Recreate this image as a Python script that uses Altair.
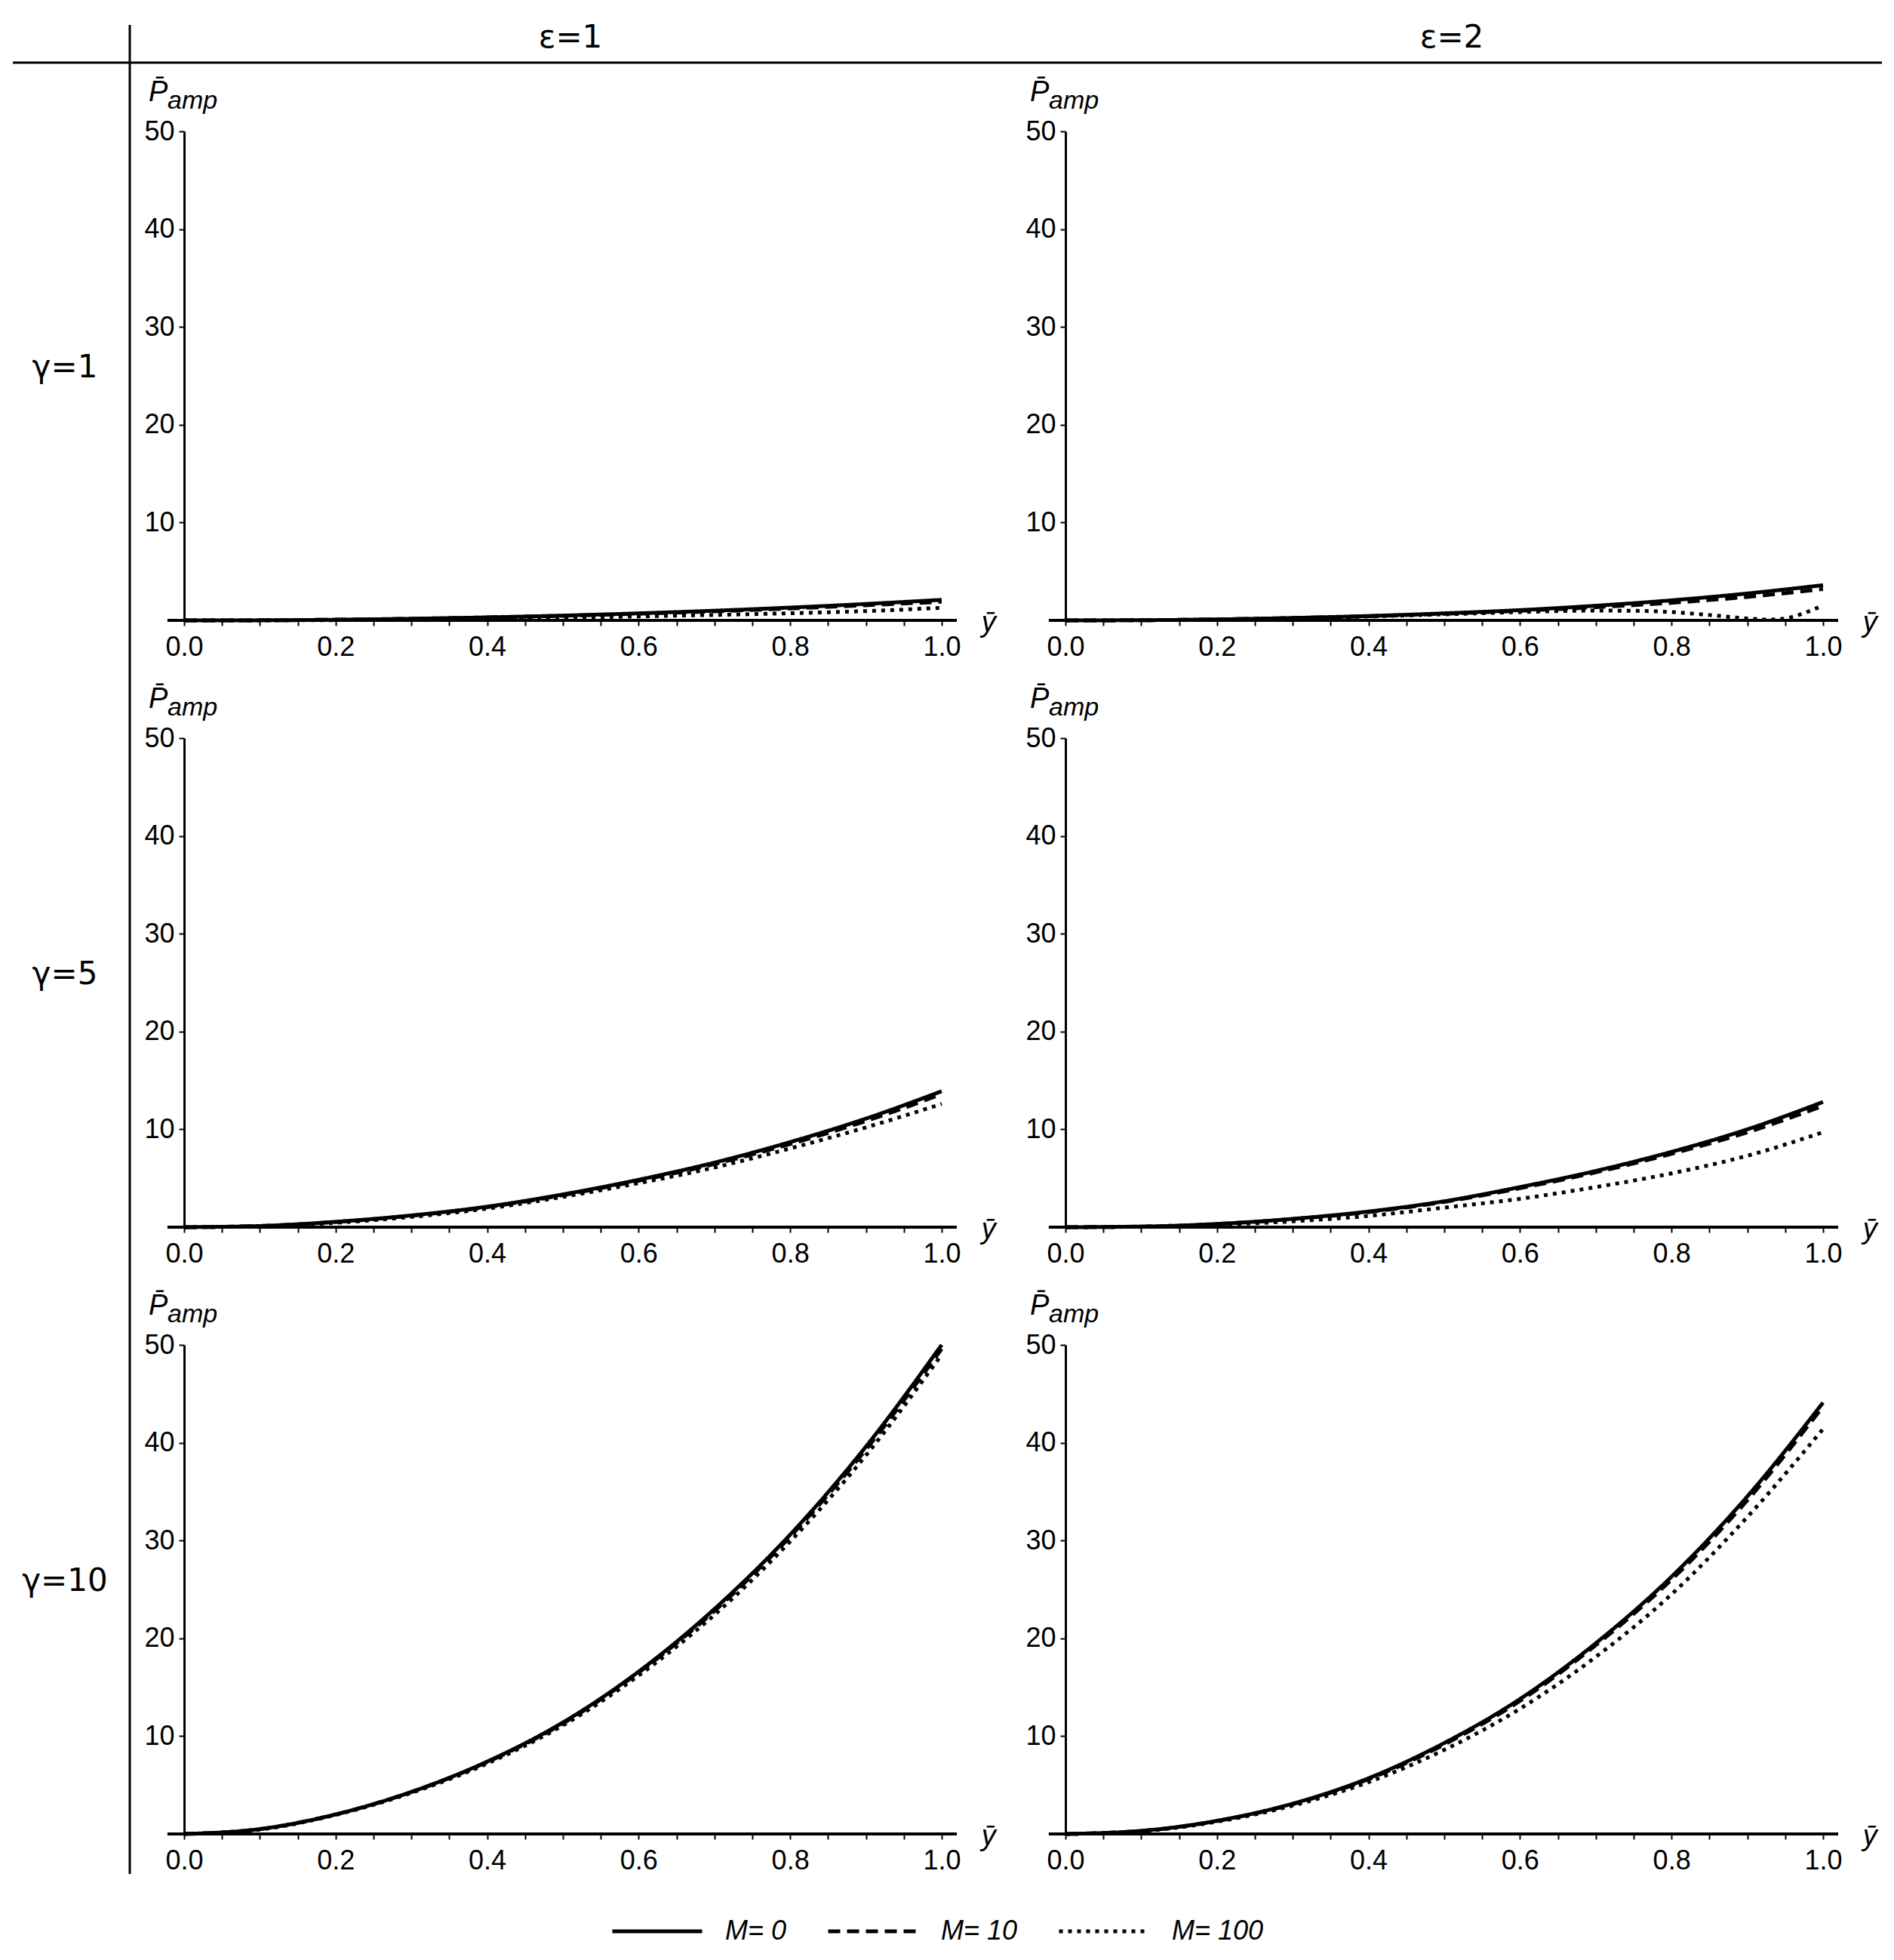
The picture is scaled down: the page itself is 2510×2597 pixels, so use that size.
import altair as alt
import pandas as pd

# ---------------- data ----------------
col_labels = ["\u03b5=1", "\u03b5=2"]
row_labels = ["\u03b3=1", "\u03b3=5", "\u03b3=10"]
m_values = ["0", "10", "100"]

x_grid = [0.0, 0.1, 0.2, 0.3, 0.4, 0.5, 0.6, 0.7, 0.8, 0.9, 1.0]

# gamma = 1, epsilon = 1
g1_e1_m0 = [0, 0.01, 0.07, 0.17, 0.31, 0.49, 0.72, 0.99, 1.31, 1.68, 2.1]
g1_e1_m10 = [0, 0.01, 0.07, 0.16, 0.30, 0.47, 0.68, 0.93, 1.22, 1.55, 1.9]
g1_e1_m100 = [0, 0.005, 0.03, 0.08, 0.16, 0.26, 0.41, 0.56, 0.73, 0.95, 1.29]
# gamma = 1, epsilon = 2
g1_e2_m0 = [0, 0.02, 0.1, 0.25, 0.45, 0.72, 1.05, 1.5, 2.05, 2.75, 3.6]
g1_e2_m10 = [0, 0.02, 0.1, 0.24, 0.43, 0.68, 0.98, 1.35, 1.8, 2.4, 3.2]
x_g1_e2_m100 = [0, 0.1, 0.2, 0.3, 0.4, 0.5, 0.6, 0.7, 0.75, 0.8, 0.85, 0.9, 0.93, 0.95, 0.97, 0.99, 1.0]
g1_e2_m100 = [0, 0.02, 0.09, 0.22, 0.4, 0.62, 0.85, 1.0, 0.98, 0.85, 0.55, 0.2, 0.08, 0.2, 0.6, 1.2, 1.5]
# gamma = 5, epsilon = 1
g5_e1_m0 = [0, 0.12, 0.55, 1.2, 2.1, 3.35, 4.85, 6.6, 8.7, 11.1, 13.9]
g5_e1_m10 = [0, 0.12, 0.53, 1.17, 2.05, 3.28, 4.75, 6.45, 8.5, 10.85, 13.6]
g5_e1_m100 = [0, 0.1, 0.45, 1.05, 1.9, 3.1, 4.5, 6.1, 8.05, 10.2, 12.6]
# gamma = 5, epsilon = 2
g5_e2_m0 = [0, 0.06, 0.33, 0.85, 1.6, 2.65, 4.1, 5.75, 7.7, 10.0, 12.8]
g5_e2_m10 = [0, 0.06, 0.32, 0.83, 1.55, 2.58, 3.98, 5.6, 7.5, 9.7, 12.4]
g5_e2_m100 = [0, 0.05, 0.25, 0.6, 1.15, 2.0, 2.9, 4.1, 5.5, 7.3, 9.7]
# gamma = 10, epsilon = 1
g10_e1_m0 = [0, 0.5, 2.0, 4.3, 7.4, 11.4, 16.6, 23.0, 30.6, 39.6, 50.0]
g10_e1_m10 = [0, 0.5, 2.0, 4.3, 7.35, 11.3, 16.5, 22.8, 30.4, 39.3, 49.6]
g10_e1_m100 = [0, 0.45, 1.95, 4.2, 7.2, 11.1, 16.2, 22.4, 29.9, 38.7, 49.0]
# gamma = 10, epsilon = 2
g10_e2_m0 = [0, 0.32, 1.35, 3.1, 5.7, 9.3, 13.8, 19.5, 26.3, 34.5, 44.1]
g10_e2_m10 = [0, 0.31, 1.33, 3.05, 5.6, 9.15, 13.6, 19.3, 26.0, 34.1, 43.7]
g10_e2_m100 = [0, 0.28, 1.25, 2.9, 5.3, 8.6, 12.8, 18.1, 24.5, 32.4, 41.4]

x_tick_values = [0.0, 0.05, 0.1, 0.15, 0.2, 0.25, 0.3, 0.35, 0.4, 0.45, 0.5,
                 0.55, 0.6, 0.65, 0.7, 0.75, 0.8, 0.85, 0.9, 0.95, 1.0]
y_tick_values = [10, 20, 30, 40, 50]
y_title_main = "P\u0304"
y_title_sub = "amp"
x_title = "\u0233"

panel_series = [
    [  # gamma = 1
        [("0", x_grid, g1_e1_m0), ("10", x_grid, g1_e1_m10), ("100", x_grid, g1_e1_m100)],
        [("0", x_grid, g1_e2_m0), ("10", x_grid, g1_e2_m10), ("100", x_g1_e2_m100, g1_e2_m100)],
    ],
    [  # gamma = 5
        [("0", x_grid, g5_e1_m0), ("10", x_grid, g5_e1_m10), ("100", x_grid, g5_e1_m100)],
        [("0", x_grid, g5_e2_m0), ("10", x_grid, g5_e2_m10), ("100", x_grid, g5_e2_m100)],
    ],
    [  # gamma = 10
        [("0", x_grid, g10_e1_m0), ("10", x_grid, g10_e1_m10), ("100", x_grid, g10_e1_m100)],
        [("0", x_grid, g10_e2_m0), ("10", x_grid, g10_e2_m10), ("100", x_grid, g10_e2_m100)],
    ],
]

# ---------------- layout ----------------
PW, PH = 1024, 648          # plot area of a panel
LW = 90                     # width of the row-label column
HH = 10                     # height of the header row view
FONT = "Liberation Sans"
one = pd.DataFrame({"k": [0]})

xscale = alt.Scale(domain=[0, 1.02], nice=False, zero=False)
yscale = alt.Scale(domain=[0, 50], nice=False)

xaxis = alt.Axis(values=x_tick_values,
                 labelExpr="(round(datum.value*100) % 20 == 0) ? format(datum.value, '.1f') : ''",
                 domain=False, grid=False, ticks=True, tickSize=7, tickWidth=2,
                 tickColor="black", labelFontSize=36, labelFont=FONT, labelColor="black",
                 labelPadding=11, labelFlush=False, labelOverlap=False, title=None)
yaxis = alt.Axis(values=y_tick_values, domain=True, domainColor="black", domainWidth=3,
                 grid=False, tickSize=7, tickWidth=2, tickColor="black",
                 labelFontSize=36, labelFont=FONT, labelColor="black", labelPadding=6,
                 title=None)


def make_panel(series):
    frames = [pd.DataFrame({"x": xs, "v": ys, "M": m}) for m, xs, ys in series]
    df = pd.concat(frames, ignore_index=True)
    lines = alt.Chart(df).mark_line(color="black", strokeWidth=5, interpolate="monotone").encode(
        x=alt.X("x:Q", scale=xscale, axis=xaxis),
        y=alt.Y("v:Q", scale=yscale, axis=yaxis),
        strokeDash=alt.StrokeDash(
            "M:N",
            scale=alt.Scale(domain=m_values, range=[[1, 0], [16, 9], [5, 7]]),
            legend=alt.Legend(title=None, labelExpr="'M= ' + datum.label"),
        ),
    )
    baseline = alt.Chart(one).mark_rule(color="black", strokeWidth=4).encode(
        x=alt.datum(-0.022), x2=alt.datum(1.02), y=alt.datum(0))
    ptxt = alt.Chart(pd.DataFrame({"t": [y_title_main]})).mark_text(
        font=FONT, fontSize=38, fontStyle="italic", align="left", baseline="alphabetic",
        dx=-47, dy=-40, color="black").encode(x=alt.datum(0), y=alt.datum(50), text="t:N")
    stxt = alt.Chart(pd.DataFrame({"t": [y_title_sub]})).mark_text(
        font=FONT, fontSize=34, fontStyle="italic", align="left", baseline="alphabetic",
        dx=-22, dy=-30, color="black").encode(x=alt.datum(0), y=alt.datum(50), text="t:N")
    xtxt = alt.Chart(pd.DataFrame({"t": [x_title]})).mark_text(
        font=FONT, fontSize=38, fontStyle="italic", align="center", baseline="middle",
        dy=4, color="black").encode(x=alt.datum(1.062), y=alt.datum(0), text="t:N")
    return alt.layer(lines, baseline, ptxt, stxt, xtxt).properties(width=PW, height=PH)


def row_label(txt):
    return alt.Chart(pd.DataFrame({"t": [txt]})).mark_text(
        font="DejaVu Sans", fontSize=42, align="center", baseline="middle", color="black"
    ).encode(x=alt.value(76), y=alt.value(313), text="t:N").properties(width=LW, height=PH)


def col_header(txt):
    return alt.Chart(pd.DataFrame({"t": [txt]})).mark_text(
        font="DejaVu Sans", fontSize=42, align="center", baseline="middle", color="black"
    ).encode(x=alt.value(PW / 2), y=alt.value(42), text="t:N").properties(width=PW, height=HH)


rule_h = alt.Chart(one).mark_rule(color="black", strokeWidth=3).encode(
    x=alt.value(7), x2=alt.value(2484), y=alt.value(75))
rule_v = alt.Chart(one).mark_rule(color="black", strokeWidth=3).encode(
    x=alt.value(162), y=alt.value(25), y2=alt.value(2475))
corner = alt.layer(rule_h, rule_v).properties(width=LW, height=HH)

cells = [corner, col_header(col_labels[0]), col_header(col_labels[1])]
for r in range(3):
    cells += [row_label(row_labels[r]),
              make_panel(panel_series[r][0]),
              make_panel(panel_series[r][1])]

chart = alt.concat(*cells, columns=3, spacing={"row": 156, "column": 144},
                   bounds="flush").properties(
    padding={"left": 2, "top": 0, "right": 5, "bottom": 5}
).configure_view(strokeWidth=0).configure_legend(
    orient="none", legendX=799, legendY=2489, direction="horizontal",
    symbolType="stroke", symbolSize=14161, symbolStrokeWidth=5, symbolStrokeColor="black",
    labelFontSize=36, labelFont=FONT, labelFontStyle="italic", labelColor="black",
    labelOffset=28, columnPadding=44, padding=0,
).resolve_scale(strokeDash="shared")

chart.save("out.html", embed_options={"renderer": "svg", "actions": False})
